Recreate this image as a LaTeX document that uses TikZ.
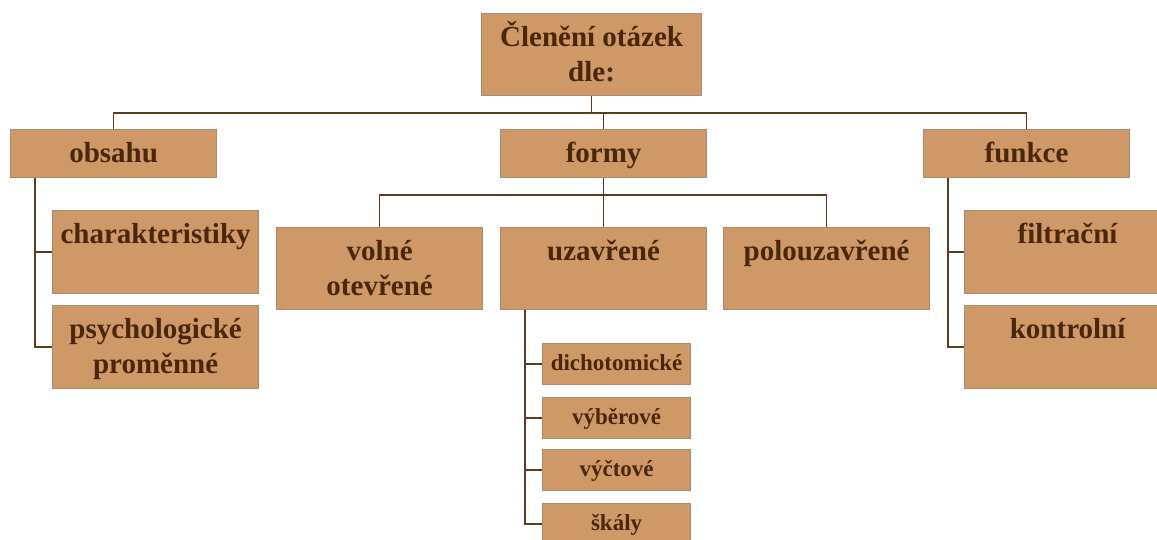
\documentclass[tikz,border=0pt]{standalone}
\usepackage{fontspec}
\setmainfont{Liberation Serif}
\definecolor{boxfill}{RGB}{206,153,102}
\definecolor{boxline}{RGB}{168,140,112}
\definecolor{ink}{RGB}{75,39,9}
\definecolor{wire}{RGB}{92,60,30}
% two centred lines, hung from the first baseline
\newcommand\twoline[2]{\vtop{\halign{\hfil##\hfil\cr#1\cr#2\cr}}}

\begin{document}
\begin{tikzpicture}[x=1pt, y=-1pt,
		box/.style={draw=boxline, line width=1.2pt, fill=boxfill, text=ink,
			font=\bfseries\fontsize{29}{35}\selectfont, align=center, inner sep=0pt,
			minimum width=206, anchor=north west, text height=33, text depth=#1-33},
		small/.style={box=41, minimum width=148, text height=27, text depth=14,
			font=\bfseries\fontsize{23}{28}\selectfont},
		link/.style={draw=wire, line width=1.5pt},
	]
	\useasboundingbox (0,0) rectangle (1157,539);
	\clip (0,0) rectangle (1157,539);

	\node[box=82, minimum width=220] (root) at (481,13) {\twoline{Členění otázek}{dle:}};

	\node[box=48] (obsahu) at (10,129)  {obsahu};
	\node[box=48] (formy)  at (500,129) {formy};
	\node[box=48] (funkce) at (923,129) {funkce};

	\node[box=83] (char)  at (52,210) {charakteristiky};
	\node[box=83] (psych) at (52,305) {\twoline{psychologické}{proměnné}};

	\node[box=82] (volne) at (276,227) {\twoline{volné}{otevřené}};
	\node[box=82] (uzav)  at (500,227) {uzavřené};
	\node[box=82] (polou) at (723,227) {polouzavřené};

	\node[box=83] (filtr)  at (964,210) {filtrační};
	\node[box=83] (kontr)  at (964,305) {kontrolní};

	\node[small] (dicho) at (542,343) {dichotomické};
	\node[small] (vyber) at (542,397) {výběrové};
	\node[small] (vyct)  at (542,449) {výčtové};
	\node[small] (skaly) at (542,503) {škály};

	% first level
	\coordinate (bus) at ([yshift=-17pt]root.south);
	\draw[link] (root.south) -- (bus);
	\draw[link] (bus) -| (obsahu.north);
	\draw[link] (bus) -| (formy.north);
	\draw[link] (bus) -| (funkce.north);

	\coordinate (formbus) at ([yshift=-17pt]formy.south);
	\draw[link] (formy.south) -- (formbus);
	\draw[link] (formbus) -| (volne.north);
	\draw[link] (formbus) -- (uzav.north);
	\draw[link] (formbus) -| (polou.north);

	% side rails
	\coordinate (obsrail) at ([xshift=25pt]obsahu.south west);
	\draw[link] (obsrail) |- (char.west);
	\draw[link] (obsrail) |- (psych.west);

	\coordinate (funrail) at ([xshift=25pt]funkce.south west);
	\draw[link] (funrail) |- (filtr.west);
	\draw[link] (funrail) |- (kontr.west);

	\coordinate (uzrail) at ([xshift=25pt]uzav.south west);
	\draw[link] (uzrail) |- (dicho.west);
	\draw[link] (uzrail) |- (vyber.west);
	\draw[link] (uzrail) |- (vyct.west);
	\draw[link] (uzrail) |- (skaly.west);
\end{tikzpicture}
\end{document}
